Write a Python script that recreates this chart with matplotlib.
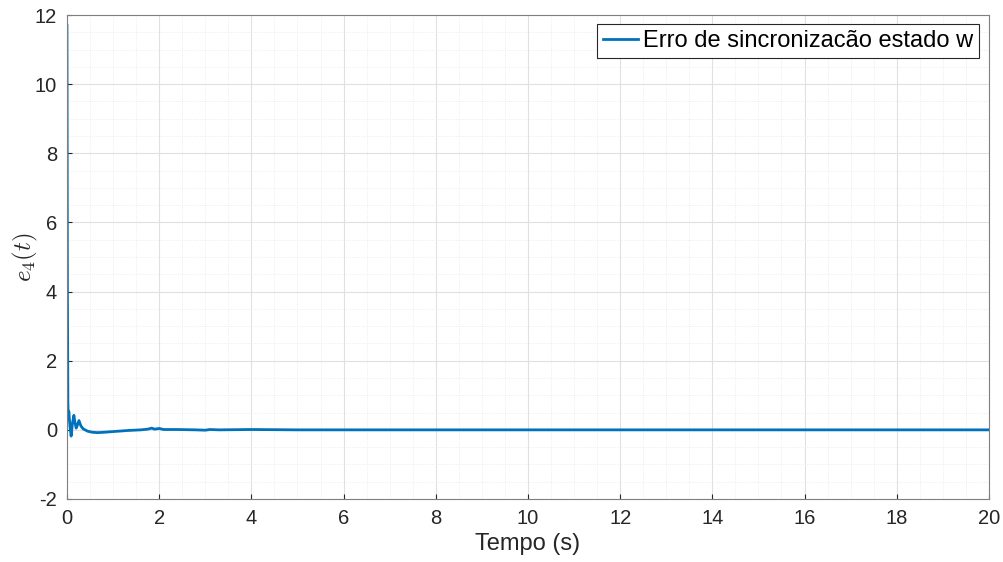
import numpy as np
import matplotlib
matplotlib.use("Agg")
import matplotlib.pyplot as plt
from matplotlib.ticker import MultipleLocator

plt.rcParams['font.family'] = ['Liberation Sans', 'DejaVu Sans']
plt.rcParams['mathtext.fontset'] = 'cm'
plt.rcParams['axes.unicode_minus'] = False

# erro de sincronizacao e4(t)
t = [0, 0.01, 0.02, 0.03, 0.04, 0.065, 0.09, 0.12, 0.15, 0.175, 0.2, 0.23, 0.26,
     0.3, 0.35, 0.45, 0.55, 0.67, 0.8, 1.0, 1.3, 1.6, 1.75, 1.84, 1.9, 2.0, 2.1,
     2.4, 2.8, 3.0, 3.1, 3.3, 4.0, 5.0, 6.0, 8.0, 10.0, 12.0, 15.0, 20.0]
e4 = [11.7, 4.0, 0.8, 0.3, 0.53, 0.1, -0.18, 0.2, 0.42, 0.2, 0.05, 0.15, 0.27,
      0.12, 0.03, -0.04, -0.07, -0.08, -0.07, -0.05, -0.02, 0.0, 0.02, 0.05, 0.02,
      0.04, 0.01, 0.01, 0.0, -0.01, 0.01, 0.0, 0.01, 0.0, 0.0, 0.0, 0.0, 0.0, 0.0, 0.0]

fig = plt.figure(figsize=(10.04, 5.62), dpi=100)
ax = fig.add_axes([0.0667, 0.1121, 0.9183, 0.8612])

ax.plot(t, e4, color="#0072BD", linewidth=2, label="Erro de sincronizacão estado w")

ax.set_xlim(0, 20)
ax.set_ylim(-2, 12)
ax.xaxis.set_major_locator(MultipleLocator(2))
ax.yaxis.set_major_locator(MultipleLocator(2))
ax.xaxis.set_minor_locator(MultipleLocator(0.5))
ax.yaxis.set_minor_locator(MultipleLocator(0.5))
ax.grid(which="major", color="#e0e0e0", linewidth=0.8)
ax.grid(which="minor", color="#e8e8e8", linewidth=0.6, linestyle=":")
ax.set_axisbelow(True)
ax.tick_params(which="both", direction="in", labelsize=14.5, colors="#262626", pad=7)
ax.tick_params(which="minor", length=0)
for s in ax.spines.values():
    s.set_color("#7f7f7f")
    s.set_linewidth(0.8)

ax.set_xlabel("Tempo (s)", fontsize=17, color="#262626", labelpad=4)
ax.set_ylabel(r"$e_4(t)$", fontsize=18, color="#262626")
ax.yaxis.set_label_coords(-0.029, 0.5)

leg = ax.legend(loc="upper right", fontsize=17, fancybox=False, framealpha=1,
                edgecolor="#262626", handlelength=1.45, handletextpad=0.25,
                borderpad=0.25, borderaxespad=0.4)
leg.get_frame().set_linewidth(0.8)

fig.savefig("out.png", dpi=100)
